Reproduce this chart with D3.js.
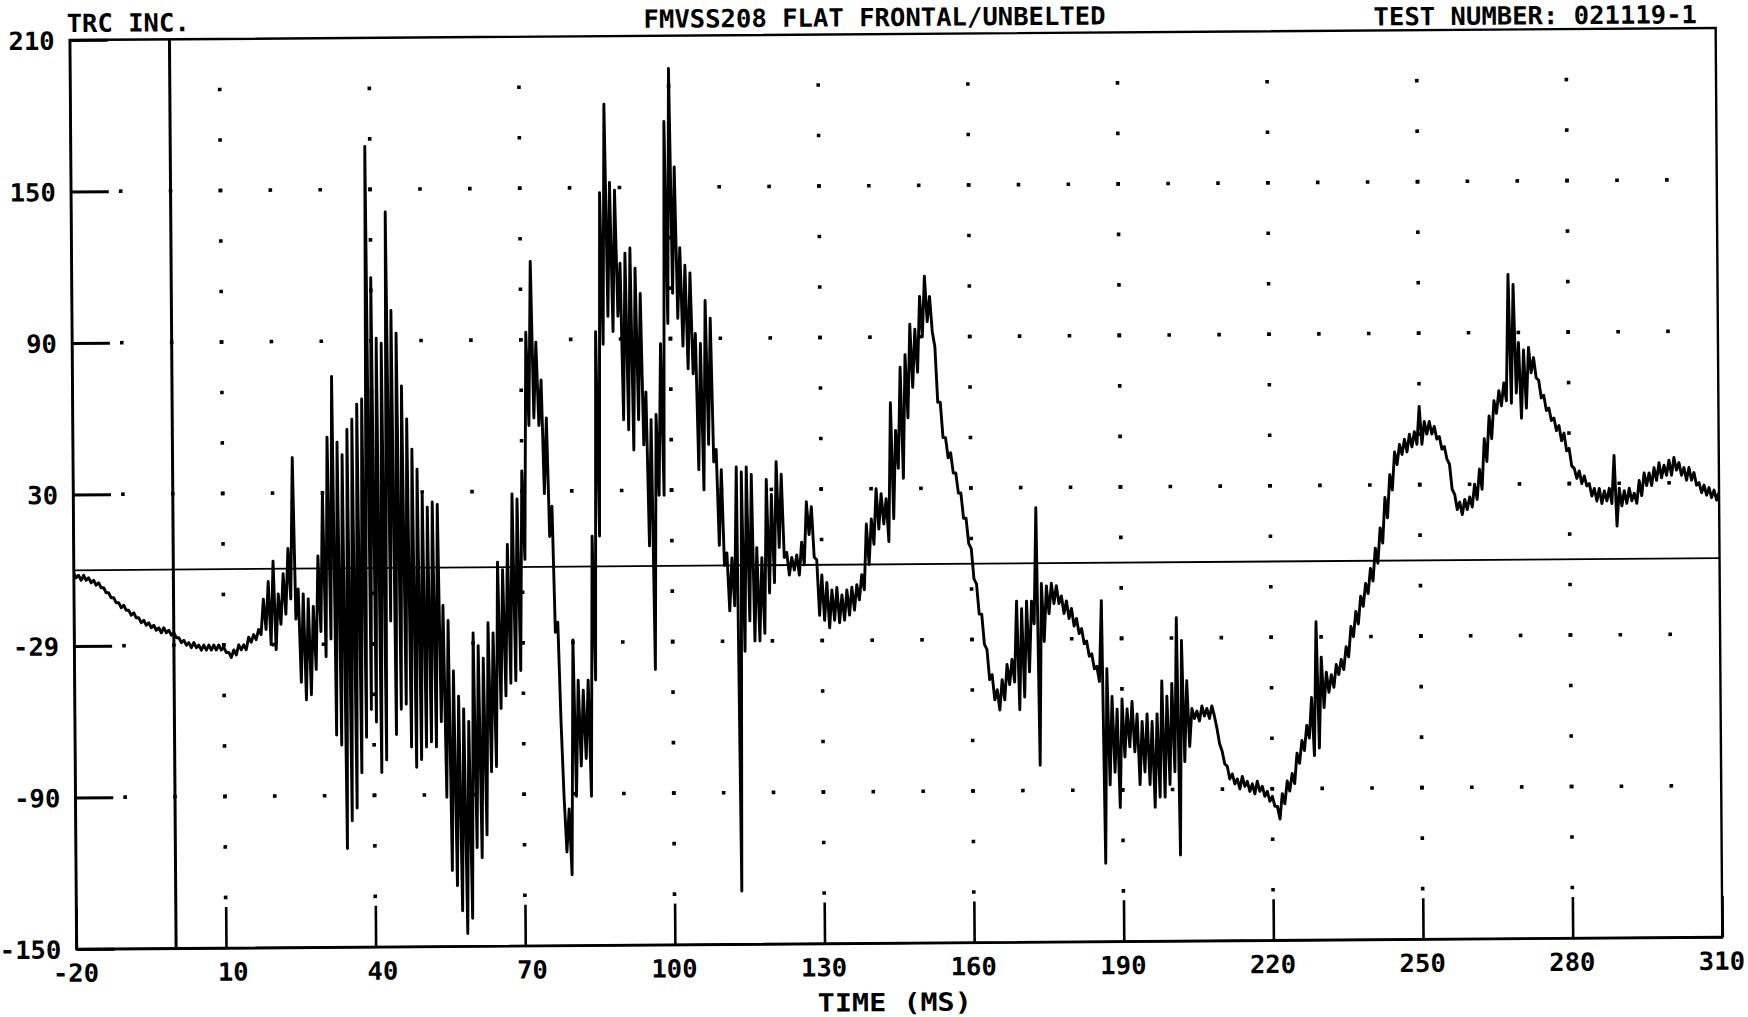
<!DOCTYPE html>
<html><head><meta charset="utf-8">
<script src="https://cdn.jsdelivr.net/npm/d3@7"></script>
<style>html,body{margin:0;padding:0;background:#fff;} svg{display:block;}</style>
</head><body>
<svg id="c" width="1748" height="1017"></svg>
<script>
// ---------- data ----------
const headerLeft = "TRC INC.";
const headerCenter = "FMVSS208 FLAT FRONTAL/UNBELTED";
const headerRight = "TEST NUMBER: 021119-1";
const xAxisTitle = "TIME  (MS)";

const xTickValues = [-20, 10, 40, 70, 100, 130, 160, 190, 220, 250, 280, 310];
const xTickLabels = ["-20", "10", "40", "70", "100", "130", "160", "190", "220", "250", "280", "310"];
const yTickValues = [210, 150, 90, 30, -30, -90, -150];
const yTickLabels = ["210", "150", "90", "30", "-29", "-90", "-150"];

// grid dots
const majorRowValues = [150, 90, 30, -30, -90];
const minorColumnTimes = [-10, 0, 10, 20, 30, 40, 50, 60, 70, 80, 90, 100, 110, 120, 130, 140, 150, 160, 170, 180, 190, 200, 210, 220, 230, 240, 250, 260, 270, 280, 290, 300];
const majorColumnTimes = [10, 40, 70, 100, 130, 160, 190, 220, 250, 280];
const minorRowValues = [190, 170, 150, 130, 110, 90, 70, 50, 30, 10, -10, -30, -50, -70, -90, -110, -130];

// trace: one sample per ms from -20 ms; upper and lower extent of the trace within each ms
const sampleStartMs = -20;
const traceHigh = [
  -1,-2,-2,-3,-4,-5,-7,-9,-11,-13,-14,-16,-17,-19,-20,-21,-22,-23,-23,-24,-25,-27,-28,-29,-29,-30,-30,-30,-30,-30,-31,-33,-32,-30,-30,-27,-26,-24,
  -12,-5,3,-10,-2,8,44,-8,-10,-12,-15,5,30,52,76,50,45,55,
  59,65,67,167,115,91,89,141,102,93,72,59,47,39,29,24,26,25,-15,-21,-41,-51,-56,-61,-26,-31,-36,-22,-26,2,-1,9,29,27,38,93,121,89,74,59,24,-22,-91,-96,-29,-45,-49,-45,12,93,148,183,152,149,120,124,
  126,118,108,69,58,60,88,176,197,158,126,119,116,92,88,105,98,46,38,5,3,39,37,39,36,7,3,34,28,41,36,5,3,4,9,25,23,2,-4,-7,-10,-9,-12,-10,-9,-8,-4,16,18,30,28,26,64,53,78,83,
  95,93,106,114,106,86,64,50,44,36,28,18,6,-8,-20,-34,-44,-50,-46,-40,-38,-15,-18,-15,-15,22,-8,-9,-8,-9,-13,-15,-18,-22,-26,-31,-36,-41,-15,-42,-53,-58,-54,-58,-55,-60,-63,-60,-63,-60,-47,-53,-48,-22,-31,-47,
  -58,-59,-57,-58,-57,-66,-75,-81,-84,-86,-85,-87,-88,-87,-89,-91,-93,-97,-92,-87,-84,-76,-71,-65,-54,-24,-38,-44,-45,-41,-39,-34,-26,-20,-14,-9,-3,5,13,25,34,43,46,48,50,51,61,55,55,53,49,45,38,26,23,24,
  25,30,36,48,57,63,67,70,113,109,86,83,84,80,71,65,60,56,53,50,44,36,35,33,30,28,28,27,28,41,28,27,28,26,31,34,34,36,38,37,39,40,38,36,36,34,30,29,28,27,26
];
const traceLow = [
  -3,-4,-4,-5,-6,-7,-9,-11,-13,-15,-16,-18,-19,-21,-22,-23,-24,-25,-25,-26,-27,-29,-30,-31,-31,-32,-32,-32,-32,-32,-33,-35,-34,-32,-32,-29,-28,-26,
  -24,-30,-32,-22,-18,-12,-20,-45,-52,-50,-40,-25,-35,-28,-66,-70,-111,-100,
  -95,-81,-67,-56,-61,-81,-76,-21,-66,-56,-54,-71,-79,-76,-71,-69,-71,-61,-91,-120,-126,-136,-145,-139,-111,-115,-106,-81,-79,-56,-51,-46,-45,-41,3,56,59,56,29,12,-26,-61,-113,-122,-91,-79,-76,-91,-45,12,88,99,93,99,58,54,
  46,58,48,8,-41,28,28,96,108,98,87,78,76,38,30,48,41,8,0,-18,-16,-129,-34,-22,-30,-30,-27,-11,-7,7,3,-4,-2,-4,0,12,3,-20,-22,-25,-22,-23,-22,-20,-18,-14,-10,0,8,14,16,9,18,38,34,58,
  70,76,90,96,92,64,50,42,36,28,18,8,-6,-20,-32,-46,-54,-58,-54,-48,-47,-58,-53,-43,-24,-80,-31,-20,-16,-16,-20,-22,-25,-28,-32,-37,-42,-47,-119,-88,-83,-97,-77,-73,-75,-88,-83,-88,-97,-93,-93,-88,-83,-116,-79,-73,
  -62,-63,-61,-62,-61,-72,-80,-86,-88,-90,-89,-91,-92,-91,-93,-95,-97,-102,-96,-91,-88,-80,-75,-70,-77,-74,-58,-52,-50,-45,-43,-38,-30,-25,-18,-13,-8,-1,7,17,28,38,42,43,45,46,46,50,50,48,44,40,28,20,18,20,
  21,24,28,39,48,58,61,63,62,66,56,60,74,72,64,59,55,51,47,43,37,32,30,29,25,23,22,23,22,13,21,22,23,22,25,29,29,31,32,33,33,35,33,31,31,29,26,25,24,23,22
];

// ---------- layout ----------
const W = 1748, H = 1017;
const plot = {left: 73, right: 1719, top: 34, bottom: 943};
const FONT = "'DejaVu Sans Mono', 'Liberation Mono', monospace";
const CHAR_W = 15.4;

const svg = d3.select("#c");
svg.append("rect").attr("width", W).attr("height", H).attr("fill", "#fff");

const cx = (plot.left + plot.right) / 2, cy = (plot.top + plot.bottom) / 2;
const root = svg.append("g").attr("transform", `rotate(-0.42 ${cx} ${cy})`);

const x = d3.scaleLinear().domain([-20, 310]).range([plot.left, plot.right]);
const y = d3.scaleLinear().domain([-150, 210]).range([plot.bottom, plot.top]);

// clip
svg.append("defs").append("clipPath").attr("id", "clip")
  .append("rect").attr("x", plot.left).attr("y", plot.top)
  .attr("width", plot.right - plot.left).attr("height", plot.bottom - plot.top);

// grid dots
const dots = [];
majorRowValues.forEach(v => minorColumnTimes.forEach(t => dots.push([t, v])));
majorColumnTimes.forEach(t => minorRowValues.forEach(v => dots.push([t, v])));
root.append("g").selectAll("rect").data(dots).join("rect")
  .attr("x", d => x(d[0]) - 1.8).attr("y", d => y(d[1]) - 1.8)
  .attr("width", 3.6).attr("height", 3.6).attr("fill", "#000");

// zero line
root.append("line")
  .attr("x1", x(-20)).attr("x2", x(310)).attr("y1", y(0)).attr("y2", y(0))
  .attr("stroke", "#000").attr("stroke-width", 1.8);

// time-zero line
root.append("line")
  .attr("x1", x(0)).attr("x2", x(0)).attr("y1", y(210)).attr("y2", y(-150))
  .attr("stroke", "#000").attr("stroke-width", 3);

// frame
root.append("rect")
  .attr("x", plot.left).attr("y", plot.top)
  .attr("width", plot.right - plot.left).attr("height", plot.bottom - plot.top)
  .attr("fill", "none").attr("stroke", "#000").attr("stroke-width", 2.4);

// axes
const yAxis = d3.axisLeft(y).tickValues(yTickValues)
  .tickFormat((d, i) => yTickLabels[i]).tickSizeInner(-38).tickSizeOuter(0).tickPadding(15);
const gy = root.append("g").attr("transform", `translate(${plot.left},0)`).call(yAxis);
gy.select(".domain").attr("stroke-width", 2.4);
gy.selectAll(".tick line").attr("stroke-width", 3);
gy.selectAll(".tick text")
  .attr("font-family", FONT).attr("font-size", 25).attr("font-weight", "bold").attr("fill", "#000")
  .attr("dy", "0.36em")
  .attr("textLength", (d, i) => yTickLabels[i].length * CHAR_W)
  .attr("lengthAdjust", "spacingAndGlyphs");

const xAxis = d3.axisBottom(x).tickValues(xTickValues)
  .tickFormat((d, i) => xTickLabels[i]).tickSizeInner(-41).tickSizeOuter(0).tickPadding(15);
const gx = root.append("g").attr("transform", `translate(0,${plot.bottom})`).call(xAxis);
gx.select(".domain").attr("stroke-width", 2.4);
gx.selectAll(".tick line").attr("stroke-width", 2.6);
gx.selectAll(".tick text")
  .attr("font-family", FONT).attr("font-size", 25).attr("font-weight", "bold").attr("fill", "#000")
  .attr("text-anchor", "end").attr("x", 22).attr("dy", "0.71em")
  .attr("textLength", (d, i) => xTickLabels[i].length * CHAR_W)
  .attr("lengthAdjust", "spacingAndGlyphs");
svg.selectAll(".domain, .tick line").attr("stroke", "#000");

// trace
const pts = [];
traceHigh.forEach((h, i) => {
  const t = sampleStartMs + i;
  pts.push([t, h]);
  pts.push([t + 0.5, traceLow[i]]);
});
const line = d3.line().x(d => x(d[0])).y(d => y(d[1]));
root.append("path").datum(pts)
  .attr("clip-path", "url(#clip)")
  .attr("d", line)
  .attr("fill", "none").attr("stroke", "#000")
  .attr("stroke-width", 2.9).attr("stroke-linejoin", "round");

// header & axis title
function label(txt, x0, yb) {
  root.append("text").text(txt)
    .attr("x", x0).attr("y", yb)
    .attr("font-family", FONT).attr("font-size", 25).attr("font-weight", "bold").attr("fill", "#000")
    .attr("textLength", txt.length * CHAR_W).attr("lengthAdjust", "spacingAndGlyphs");
}
label(headerLeft, 70, 26);
label(headerCenter, 647, 26);
label(headerRight, 1377, 29);
label(xAxisTitle, 814, 1011);
</script>
</body></html>
